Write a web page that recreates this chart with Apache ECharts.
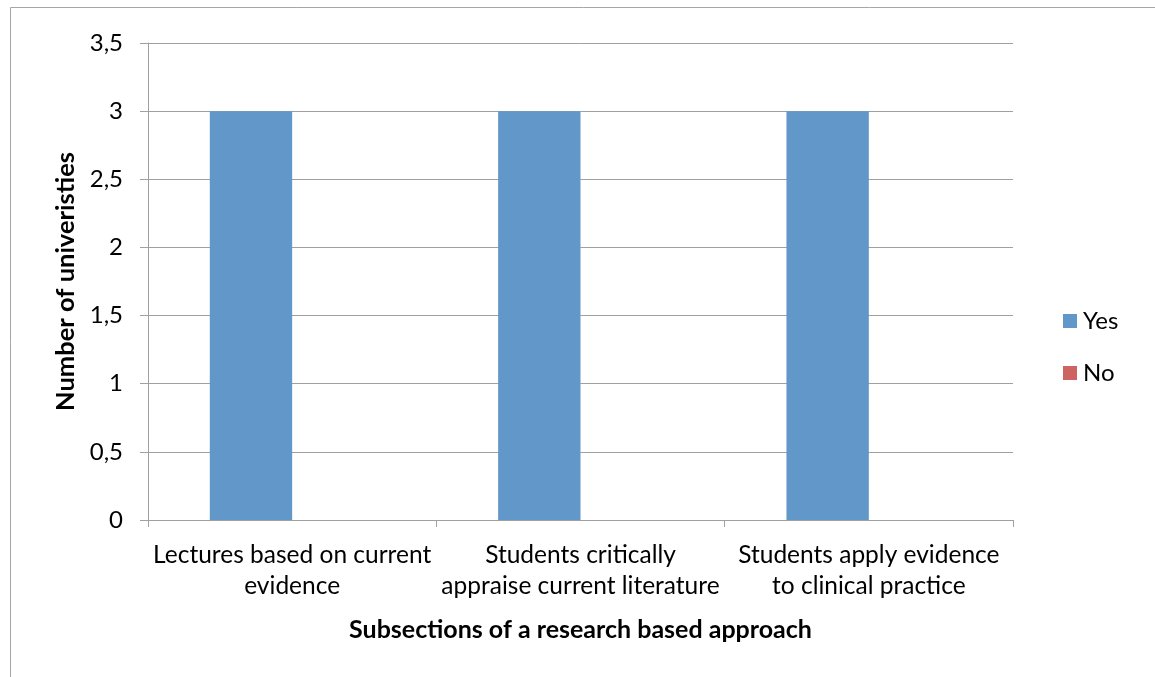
<!DOCTYPE html>
<html>
<head>
<meta charset="utf-8">
<script src="https://cdn.jsdelivr.net/npm/echarts@6/dist/echarts.min.js"></script>
<style>
html,body{margin:0;padding:0;background:#fff;}
#chart{width:1155px;height:677px;}
</style>
</head>
<body>
<div id="chart"></div>
<script>
const categories = [
  'Lectures based on current\nevidence',
  'Students critically\nappraise current literature',
  'Students apply evidence\nto clinical practice'
];
const yesValues = [3, 3, 3];
const noValues = [0, 0, 0];
const seriesNames = ['Yes', 'No'];
const xAxisTitle = 'Subsections of a research based approach';
const yAxisTitle = 'Number of univeristies';

const FONT = 'Lato';
const chart = echarts.init(document.getElementById('chart'));
chart.setOption({
  animation: false,
  backgroundColor: '#ffffff',
  textStyle: { fontFamily: FONT, color: '#000' },
  graphic: [{
    type: 'rect',
    shape: { x: 10.5, y: 7.5, width: 1300, height: 800 },
    style: { fill: 'none', stroke: '#a6a6a6', lineWidth: 1 },
    silent: true
  }],
  grid: { left: 148, right: 142, top: 43, bottom: 157, containLabel: false },
  legend: {
    orient: 'vertical',
    left: 1063,
    top: 309,
    padding: 0,
    itemWidth: 14,
    itemHeight: 14,
    itemGap: 28,
    icon: 'rect',
    data: seriesNames,
    textStyle: { fontFamily: FONT, fontSize: 24, color: '#000', lineHeight: 22, padding: [0, 0, 0, 1] }
  },
  xAxis: {
    type: 'category',
    data: categories,
    name: xAxisTitle,
    nameLocation: 'middle',
    nameGap: 97,
    nameTextStyle: { fontFamily: FONT, fontSize: 25, fontWeight: 'bold', color: '#000' },
    axisLine: { show: true, lineStyle: { color: '#a0a0a0', width: 1 } },
    axisTick: { show: true, length: 7, lineStyle: { color: '#a0a0a0' } },
    axisLabel: { fontFamily: FONT, fontSize: 24.5, color: '#000', lineHeight: 31, margin: 20, interval: 0 }
  },
  yAxis: {
    type: 'value',
    min: 0,
    max: 3.5,
    interval: 0.5,
    name: yAxisTitle,
    nameLocation: 'middle',
    nameGap: 66,
    nameTextStyle: { fontFamily: FONT, fontSize: 25.5, fontWeight: 'bold', color: '#000' },
    axisLine: { show: true, lineStyle: { color: '#a0a0a0', width: 1 } },
    axisTick: { show: true, length: 8, lineStyle: { color: '#a0a0a0' } },
    axisLabel: {
      fontFamily: FONT, fontSize: 24, color: '#000', margin: 25,
      formatter: v => String(v).replace('.', ',')
    },
    splitLine: { show: true, lineStyle: { color: '#a0a0a0', width: 1 } }
  },
  series: [
    {
      name: seriesNames[0], type: 'bar', data: yesValues,
      itemStyle: { color: '#6297ca' },
      barGap: '0%', barCategoryGap: '42.857%'
    },
    {
      name: seriesNames[1], type: 'bar', data: noValues,
      itemStyle: { color: '#cd6461' },
      barGap: '0%', barCategoryGap: '42.857%'
    }
  ]
});
</script>
</body>
</html>
